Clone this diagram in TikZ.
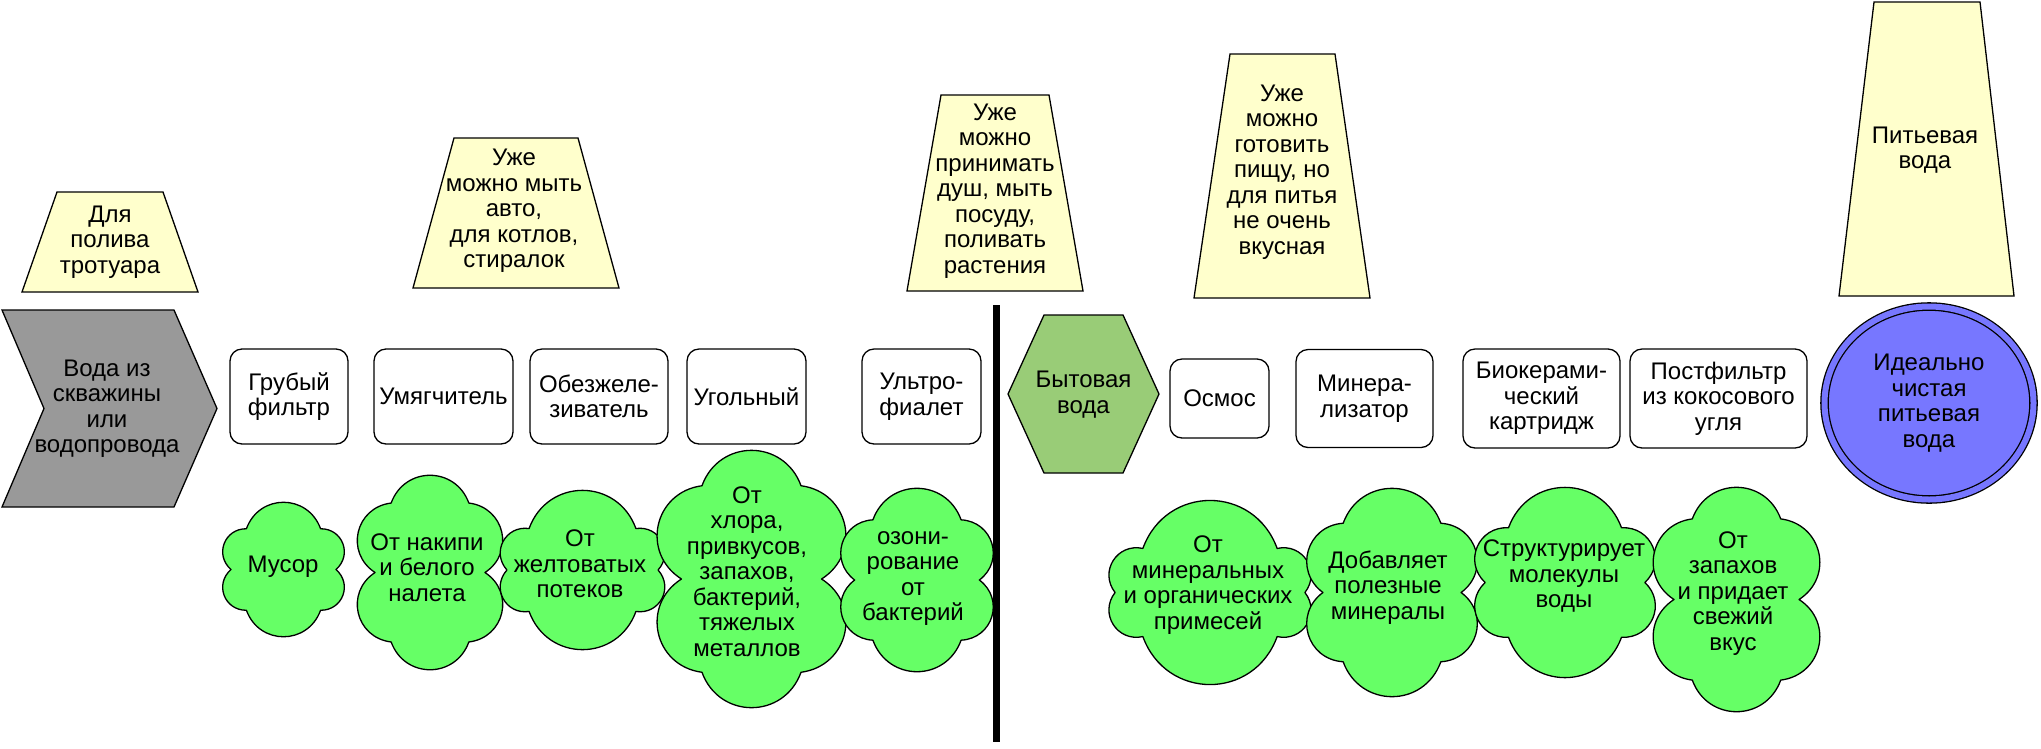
\documentclass[tikz,border=0pt]{standalone}
\usepackage{fontspec}
\setmainfont{Liberation Sans}
\usepackage{xcolor}
\usepackage{tikz}
\usetikzlibrary{positioning, shapes.geometric, shapes.symbols}
\tikzstyle{divider} = [line width=7pt]

\definecolor{trapcol}{HTML}{FFFFCC}
\definecolor{srccol}{HTML}{999999}
\definecolor{hexcol}{HTML}{99CC77}
\definecolor{cldcol}{HTML}{66FF66}
\definecolor{ellcol}{HTML}{7777FF}

% cloud: centre x, centre y, half width, half height
\newcommand{\puffcloud}[4]{%
	\pgfmathsetmacro{\cla}{(#3-0.361*#4)/0.67}%
	\pgfmathsetmacro{\clb}{1.414*#4-0.721*\cla}%
	\draw[cld] ({#1+\cla},{#2}) foreach \t in {45,135,180,225,315,360} { to[bend left=70, looseness=1.3] ({#1+\cla*cos(\t)},{#2+\clb*sin(\t)}) } -- cycle;}

\begin{document}
\begin{tikzpicture}[
			x=1pt, y=-1pt,
			every node/.style={font=\fontsize{24}{25.5}\selectfont, align=center},
			box/.style={draw, rounded corners=12pt, line width=1.3pt, inner sep=2pt, minimum height=95pt},
			trapbox/.style={draw, fill=trapcol, line width=1.3pt},
			cld/.style={draw, fill=cldcol, line width=1.3pt, line join=round},
			txt/.style={inner sep=0pt}
			]
			
			\useasboundingbox (0,0) rectangle (2041,748);
			
			\draw[draw, fill=srccol, line width=1.3pt] (2,310) -- (174,310) -- (217,408.5) -- (174,507) -- (2,507) -- (44,408.5) -- cycle;
			\node[txt] (src) at (107,408.5) {Вода из\\скважины\\или\\водопровода};
			
			\node[box, minimum width=118pt] (b1) at (289,396.5) {Грубый\\фильтр};
			\node[box, minimum width=139pt, right=24.7pt of b1] (b2) {Умягчитель};
			\node[box, minimum width=138pt, right=15.7pt of b2] (b3) {Обезжеле-\\зиватель};
			\node[box, minimum width=119pt, right=17.7pt of b3] (b4) {Угольный};
			\node[box, minimum width=119pt, right=54.7pt of b4] (b5) {Ультро-\\фиалет};
			
			\draw[trapbox] (57,192) -- (163,192) -- (198,292) -- (22,292) -- cycle;
			\node[txt] (tr1) at (110,242) {Для\\полива\\тротуара};
			\draw[trapbox] (454,138) -- (578,138) -- (619,288) -- (413,288) -- cycle;
			\node[txt] (tr2) at (514,211) {Уже\\можно мыть\\авто,\\для котлов,\\стиралок};
			\draw[trapbox] (941,95) -- (1049,95) -- (1083,291) -- (907,291) -- cycle;
			\node[txt] (tr3) at (995,191) {Уже\\можно\\принимать\\душ, мыть\\посуду,\\поливать\\растения};
			
			\puffcloud{283.5}{569.5}{59.5}{67.5}
			\node[txt] (cl1) at (283,567) {Мусор};
			\puffcloud{430}{572.5}{72}{97.5}
			\node[txt] (cl2) at (427,567.5) {От накипи\\и белого\\налета};
			\puffcloud{582.5}{570}{79.5}{80}
			\node[txt] (cl3) at (580,564) {От\\желтоватых\\потеков};
			\puffcloud{751.5}{579}{93.5}{129}
			\node[txt] (cl4) at (747,571.5) {От\\хлора,\\привкусов,\\запахов,\\бактерий,\\тяжелых\\металлов};
			\puffcloud{917}{580}{75}{92}
			\node[txt] (cl5) at (913,578.5) {озони-\\рование\\от\\бактерий};
			
			\coordinate (divt) at (996,305);
			\coordinate (divb) at (996,742);
			\draw[divider] (divt) -- (divb);
			
			\node[signal, signal to=west and east, signal pointer angle=131, draw, fill=hexcol, line width=1.3pt, minimum width=151pt, minimum height=158pt] (hex) at (1083.5,394) {};
			\node[txt] (hext) at (1083.5,394.5) {Бытовая\\вода};
			
			\node[box, minimum width=99pt, minimum height=79pt] (b6) at (1219.5,398.5) {Осмос};
			\node[box, minimum width=137pt, minimum height=98pt, right=25.7pt of b6] (b7) {Минера-\\лизатор};
			\node[box, minimum width=157pt, minimum height=99pt, right=28.7pt of b7] (b8) {Биокерами-\\ческий\\картридж};
			\node[box, minimum width=177pt, minimum height=99pt, right=8.7pt of b8] (b9) {Постфильтр\\из кокосового\\угля};
			
			\draw[trapbox] (1230,54) -- (1335,54) -- (1370,298) -- (1194,298) -- cycle;
			\node[txt] (tr4) at (1282,172) {Уже\\можно\\готовить\\пищу, но\\для питья\\не очень\\вкусная};
			\draw[trapbox] (1874,2) -- (1980,2) -- (2014,296) -- (1839,296) -- cycle;
			\node[txt] (tr5) at (1925,150) {Питьевая\\вода};
			
			\node[ellipse, draw, line width=1.3pt, double=ellcol, double distance=6pt, fill=ellcol, minimum width=209pt, minimum height=193pt] (fin) at (1929,403) {Идеально\\чистая\\питьевая\\вода};
			
			\puffcloud{1210}{592.5}{97}{92.5}
			\node[txt] (cl6) at (1208,585) {От\\минеральных\\и органических\\примесей};
			\puffcloud{1392}{592.5}{84}{104.5}
			\node[txt] (cl7) at (1388,587.5) {Добавляет\\полезные\\минералы};
			\puffcloud{1565}{582.5}{88}{95.5}
			\node[txt] (cl8) at (1564,576) {Структурирует\\молекулы\\воды};
			\puffcloud{1736.5}{599.5}{82.5}{112.5}
			\node[txt] (cl9) at (1733,593.5) {От\\запахов\\и придает\\свежий\\вкус};
		\end{tikzpicture}
\end{document}
